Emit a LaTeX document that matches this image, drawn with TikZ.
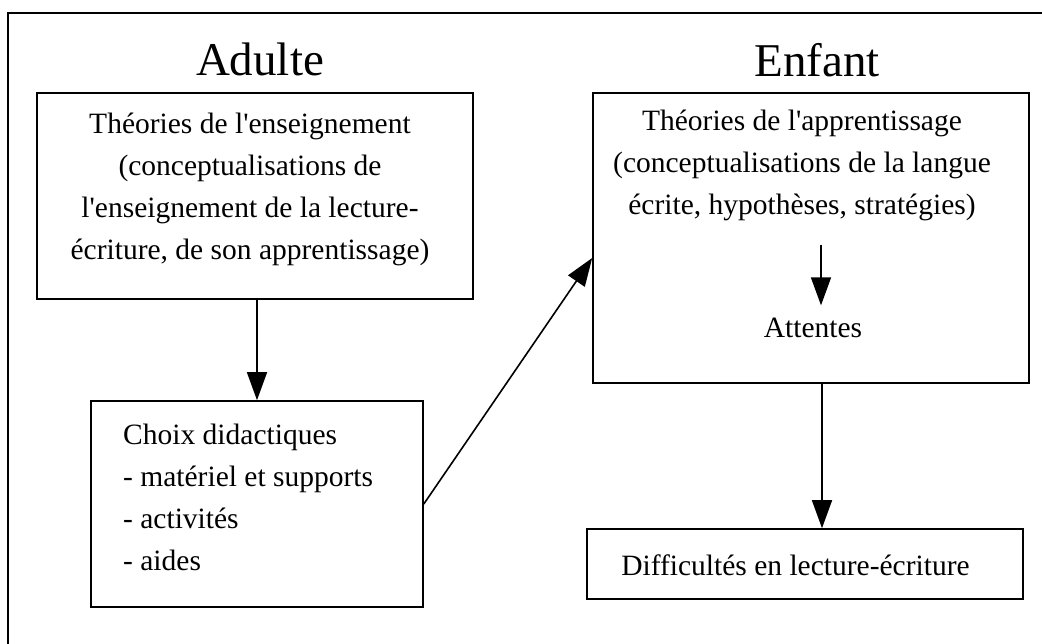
\documentclass[tikz,border=0pt]{standalone}
\usepackage{fontspec}
\setmainfont{Liberation Serif}
\usetikzlibrary{calc, positioning}
\usetikzlibrary{arrows.meta}
\newcommand{\apos}{\textquotesingle}
\tikzset{
  boite/.style={draw, rectangle, line width=1.6pt, inner sep=0pt},
  texte/.style={font=\fontsize{29.5}{42}\selectfont, inner sep=0pt},
  titre/.style={font=\fontsize{47}{50}\selectfont, inner sep=0pt, anchor=base},
  fleche/.style={line width=1.6pt, -{Triangle[length=28pt, width=20pt]}}
}

\begin{document}
\begin{tikzpicture}[x=1pt, y=-1pt]
\useasboundingbox (0,0) rectangle (1042,643);

\draw[line width=1.6pt] (8,660) -- (8,13) -- (1060,13);

\node[titre] (adulte) at (260,75) {Adulte};
\node[titre] (enfant) at (817,76) {Enfant};

\node[boite, minimum width=436pt, minimum height=206pt] (theoens) at (255,196) {};
\node[boite, minimum width=332pt, minimum height=206pt] (choix) at (257,504) {};
\node[boite, minimum width=436pt, minimum height=290pt] (theoapp) at (811,238) {};
\node[boite, minimum width=436pt, minimum height=70pt] (diff) at (805,564) {};

\node[texte, align=center] (tens) at (250,189) {Théories de l\apos enseignement\\(conceptualisations de\\l\apos enseignement de la lecture-\\écriture, de son apprentissage)};
\node[texte, align=left, anchor=west] (tchoix) at (123,497) {Choix didactiques\\- matériel et supports\\- activités\\- aides};
\node[texte, align=center] (tapp) at (802,165) {Théories de l\apos apprentissage\\(conceptualisations de la langue\\écrite, hypothèses, stratégies)};
\node[texte, anchor=base] (att) at (813,337) {Attentes};
\node[texte, anchor=base] (tdiff) at (795.5,575) {Difficultés en lecture-écriture};

\draw[fleche] (choix.north |- theoens.south) -- (choix.north);
\draw[fleche] (choix.east) -- ([yshift=-20pt]theoapp.west);
\draw[fleche] ([xshift=19pt, yshift=-24pt]tapp.south) -- ([xshift=8pt, yshift=12pt]att.north);
\draw[fleche] ([xshift=11pt]theoapp.south) -- ([xshift=11pt]theoapp.south |- diff.north);
\end{tikzpicture}
\end{document}
